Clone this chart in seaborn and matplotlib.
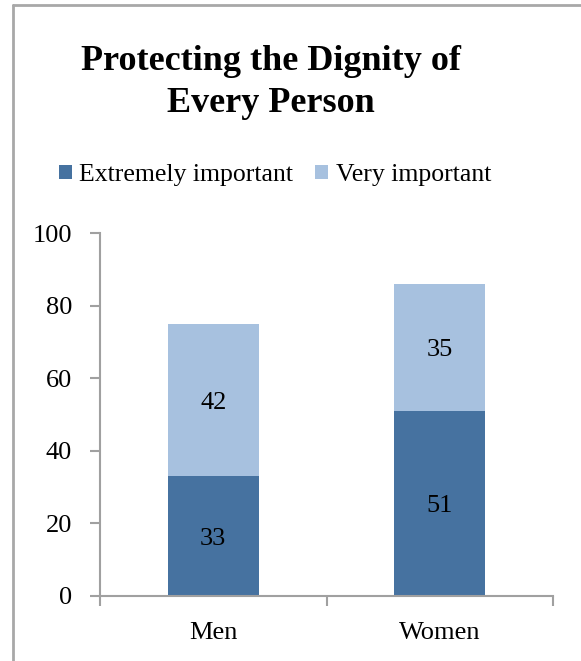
import matplotlib
matplotlib.use("Agg")
import matplotlib.pyplot as plt
import seaborn as sns
import pandas as pd
from matplotlib.patches import Patch
from matplotlib.lines import Line2D

categories = ["Men", "Women"]
extremely = [33, 51]
very = [42, 35]
series_names = ["Extremely important", "Very important"]
title_lines = ["Protecting the Dignity of", "Every Person"]
yticks = [0, 20, 40, 60, 80, 100]

dark = "#4672A0"
light = "#A7C1DF"
axis_col = "#A0A0A0"

sns.set_theme(style="white")
plt.rcParams["font.family"] = ["Liberation Serif", "DejaVu Serif"]
plt.rcParams["text.color"] = "black"
plt.rcParams["xtick.color"] = "black"
plt.rcParams["ytick.color"] = "black"

FS = 19
W, H = 581, 661
fig = plt.figure(figsize=(W / 100, H / 100), dpi=100)
ax = fig.add_axes([100 / W, 1 - 596 / H, (553 - 100) / W, (596 - 233) / H])

totals = [e + v for e, v in zip(extremely, very)]
df = pd.DataFrame({"cat": categories, "total": totals, "ext": extremely})

sns.barplot(data=df, x="cat", y="total", color=light, width=0.4, saturation=1, ax=ax)
sns.barplot(data=df, x="cat", y="ext", color=dark, width=0.4, saturation=1, ax=ax)

for cont in ax.containers:
    for b in cont:
        b.set_linewidth(0)

for i, (e, v) in enumerate(zip(extremely, very)):
    ax.annotate(str(e), (i, e / 2), xytext=(0, -2), textcoords="offset points",
                ha="center", va="center", fontsize=FS, color="black")
    ax.annotate(str(v), (i, e + v / 2), xytext=(0, -2), textcoords="offset points",
                ha="center", va="center", fontsize=FS, color="black")

ax.set_xlim(-0.5, 1.5)
ax.set_ylim(0, 100)
ax.set_yticks(yticks)
ax.set_yticklabels([str(t) for t in yticks], fontsize=FS)
ax.set_xticks([0, 1])
ax.set_xticklabels(categories, fontsize=FS)
ax.set_xticks([-0.5, 0.5, 1.5], minor=True)
ax.tick_params(axis="x", which="major", length=0, pad=19, labelcolor="black")
ax.tick_params(axis="x", which="minor", length=7, width=1.5, color=axis_col, direction="out", bottom=True)
ax.tick_params(axis="y", which="major", length=7, width=1.5, color=axis_col, direction="out", left=True, pad=13, labelcolor="black")
ax.set_xlabel("")
ax.set_ylabel("")
for s in ["top", "right"]:
    ax.spines[s].set_visible(False)
for s in ["left", "bottom"]:
    ax.spines[s].set_color(axis_col)
    ax.spines[s].set_linewidth(1.5)
ax.grid(False)

fig.text(271 / W, 1 - 70 / H, title_lines[0], ha="center", va="baseline", fontsize=26,
         fontweight="bold", color="black")
fig.text(271 / W, 1 - 112 / H, title_lines[1], ha="center", va="baseline", fontsize=26,
         fontweight="bold", color="black")

handles = [Patch(facecolor=dark, edgecolor="none"), Patch(facecolor=light, edgecolor="none")]
fig.legend(handles, series_names, loc="center", bbox_to_anchor=(275 / W, 1 - 175 / H),
           ncol=2, frameon=False, fontsize=18.5, handlelength=0.5, handleheight=0.5,
           handletextpad=0.3, columnspacing=0.85, labelcolor="black")

fig.add_artist(Line2D([12.5 / W, 12.5 / W], [0, 1 - 5 / H], transform=fig.transFigure, color="#A8A8A8", lw=2))
fig.add_artist(Line2D([12.5 / W, 1], [1 - 5 / H, 1 - 5 / H], transform=fig.transFigure, color="#A8A8A8", lw=2))

fig.savefig("out.png", dpi=100)
